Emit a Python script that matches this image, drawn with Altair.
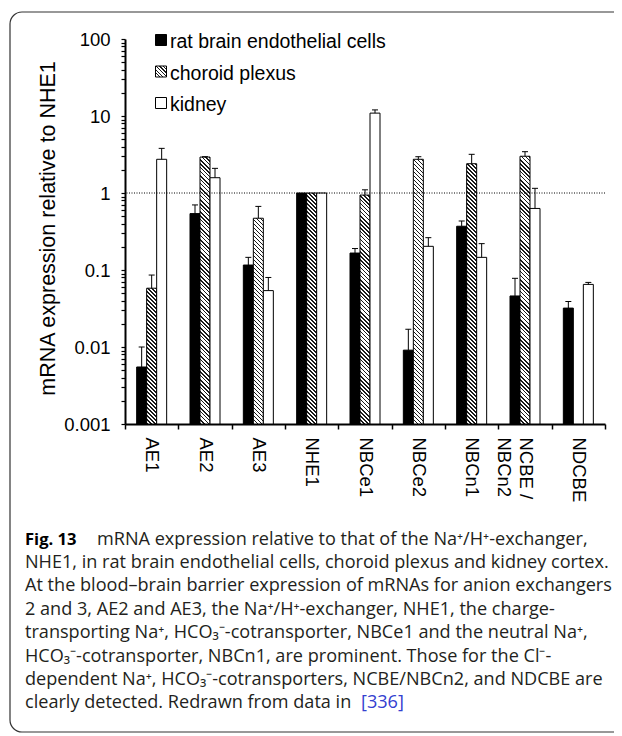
import math
import altair as alt
import pandas as pd

# ---------------- data ----------------
categories = ["AE1", "AE2", "AE3", "NHE1", "NBCe1", "NBCe2", "NBCn1", "NCBE/NBCn2", "NDCBE"]
series = ["rat brain endothelial cells", "choroid plexus", "kidney"]

endothelial = [0.0055, 0.54, 0.116, 1.0, 0.166, 0.0091, 0.37, 0.046, 0.032]
endothelial_err = [0.010, 0.70, 0.146, None, 0.19, 0.017, 0.433, 0.078, 0.039]
choroid = [0.058, 2.93, 0.47, 1.0, 0.94, 2.74, 2.4, 3.0, None]
choroid_err = [0.086, 2.96, 0.67, None, 1.10, 2.96, 3.18, 3.44, None]
kidney = [2.74, 1.58, 0.054, 1.0, 10.9, 0.203, 0.146, 0.63, 0.065]
kidney_err = [3.8, 2.09, 0.080, None, 12.0, 0.263, 0.22, 1.15, 0.069]

caption_bold = "Fig. 13"
caption_lines = [
    "mRNA expression relative to that of the Na\u207a/H\u207a-exchanger,",
    "NHE1, in rat brain endothelial cells, choroid plexus and kidney cortex.",
    "At the blood\u2013brain barrier expression of mRNAs for anion exchangers",
    "2 and 3, AE2 and AE3, the Na\u207a/H\u207a-exchanger, NHE1, the charge-",
    "transporting Na\u207a, HCO\u2083\u207b-cotransporter, NBCe1 and the neutral Na\u207a,",
    "HCO\u2083\u207b-cotransporter, NBCn1, are prominent. Those for the Cl\u207b-",
    "dependent Na\u207a, HCO\u2083\u207b-cotransporters, NCBE/NBCn2, and NDCBE are",
    "clearly detected. Redrawn from data in",
]
caption_ref = "[336]"

# ---------------- layout constants ----------------
W, H = 480, 385
YMIN, YMAX = 0.001, 100
STEP = W / len(categories)
BAR_W = 10.0
GROUP = 3 * BAR_W

rows = []
vals = [endothelial, choroid, kidney]
errs = [endothelial_err, choroid_err, kidney_err]
for si, s in enumerate(series):
    for ci, c in enumerate(categories):
        rows.append({"cat": c, "series": s, "value": vals[si][ci], "err": errs[si][ci], "base": YMIN})
df = pd.DataFrame(rows)


def hatch(w, h, period=4.0, thick=1.5, dark="#1a1a1a", light="#ffffff"):
    L = w + h
    c = L / (w * w + h * h)
    stops = []
    k = 0
    while k * period < L:
        a = round(k * period / L, 5)
        b = round(min((k * period + thick) / L, 1.0), 5)
        e = round(min((k + 1) * period / L, 1.0), 5)
        stops += [
            {"offset": a, "color": dark},
            {"offset": b, "color": dark},
            {"offset": b, "color": light},
            {"offset": e, "color": light},
        ]
        k += 1
    return {"gradient": "linear", "x1": 0, "y1": 1, "x2": c * w, "y2": 1 - c * h, "stops": stops}


def px_height(v):
    return H * (math.log10(v) - math.log10(YMIN)) / (math.log10(YMAX) - math.log10(YMIN))


conds = []
for ci, c in enumerate(categories):
    v = choroid[ci]
    if v is None:
        continue
    conds.append({
        "test": f"datum.cat == '{c}' && datum.series == '{series[1]}'",
        "value": hatch(BAR_W, px_height(v)),
    })
conds.append({"test": f"datum.series == '{series[0]}'", "value": "black"})
bar_fill = {"condition": conds, "value": "white"}

tick_values = []
for e in range(-3, 2):
    for k in range(1, 10):
        tick_values.append(float(f"{k}e{e}"))
tick_values.append(100.0)

FONT = "Liberation Sans"

x_enc = alt.X(
    "cat:N", sort=categories, title="",
    scale=alt.Scale(paddingInner=0, paddingOuter=0),
    axis=alt.Axis(
        labelAngle=90, labelAlign="left", labelBaseline="middle",
        labelFont=FONT, labelFontSize=18.5, labelColor="black",
        labelPadding=8, tickSize=5, tickWidth=1.5, tickColor="black",
        domainColor="black", domainWidth=2, tickBand="extent",
        labelExpr="datum.value == 'NCBE/NBCn2' ? ['NCBE /', 'NBCn2'] : datum.label",
        labelLineHeight=22, labelOverlap=False, grid=False,
    ),
)
xoff_enc = alt.XOffset(
    "series:N", sort=series,
    scale=alt.Scale(paddingInner=0, paddingOuter=0,
                    range=[(STEP - GROUP) / 2, (STEP + GROUP) / 2]),
)
y_scale = alt.Scale(type="log", domain=[YMIN, YMAX])
y_axis = alt.Axis(
    values=tick_values,
    labelExpr="abs(log(datum.value)/LN10 - round(log(datum.value)/LN10)) < 0.0001 ? format(datum.value, '~g') : ''",
    labelFont=FONT, labelFontSize=18.5, labelColor="black", labelPadding=11,
    labelOverlap=False, labelFlush=False,
    tickSize=4, tickWidth=1.2, tickColor="black",
    domainColor="black", domainWidth=2, grid=False,
    title="mRNA expression relative to NHE1",
    titleFont=FONT, titleFontSize=21.5, titleFontWeight="normal", titleColor="black",
    titleX=-77, titleY=189, titleAngle=270, titleAlign="center", titleBaseline="middle",
)

base = alt.Chart(df)
bars = base.transform_filter("isValid(datum.value)").mark_bar(stroke="black", strokeWidth=1).encode(
    x=x_enc, xOffset=xoff_enc,
    y=alt.Y("value:Q", scale=y_scale, axis=y_axis),
    y2=alt.Y2("base:Q"),
    fill=bar_fill,
)
stems = base.transform_filter("isValid(datum.err)").mark_rule(color="black", strokeWidth=1).encode(
    x=x_enc, xOffset=xoff_enc,
    y=alt.Y("value:Q", scale=y_scale, axis=y_axis),
    y2=alt.Y2("err:Q"),
)
caps = base.transform_filter("isValid(datum.err)").mark_tick(
    color="black", thickness=1, size=6, opacity=1
).encode(
    x=x_enc, xOffset=xoff_enc,
    y=alt.Y("err:Q", scale=y_scale, axis=y_axis),
)
ref = alt.Chart(pd.DataFrame({"ref": [1.0]})).mark_rule(
    color="black", strokeWidth=1, strokeDash=[1, 1.5]
).encode(y=alt.Y("ref:Q", scale=y_scale, axis=y_axis))

main = alt.layer(bars, stems, caps, ref)

# ---------------- legend ----------------
leg_df = pd.DataFrame({"series": series})
leg_y = alt.Y("series:N", sort=series, scale=alt.Scale(type="point", padding=0, range=[1, 64]), axis=None)
leg_fill = {
    "condition": [
        {"test": f"datum.series == '{series[1]}'", "value": hatch(11, 11, period=3.6, thick=1.2)},
        {"test": f"datum.series == '{series[0]}'", "value": "black"},
    ],
    "value": "white",
}
leg_sq = alt.Chart(leg_df).mark_square(size=121, stroke="black", strokeWidth=1, opacity=1).encode(
    x=alt.value(36), y=leg_y, fill=leg_fill
)
leg_txt = alt.Chart(leg_df).mark_text(
    align="left", baseline="middle", font=FONT, fontSize=19.5, color="black", dy=2
).encode(x=alt.value(45), y=leg_y, text="series:N")
legend = alt.layer(leg_sq, leg_txt)

# ---------------- caption & frame ----------------
dummy = pd.DataFrame({"a": [0]})
CAP_FONT = "Open Sans"
CAP_SIZE = 18.1
CAP_COLOR = "#231f20"
CAP_Y0 = 505.5
CAP_DY = 23.4
cap_layers = []
cap_layers.append(
    alt.Chart(dummy).mark_text(
        text=caption_bold, align="left", baseline="alphabetic", font=CAP_FONT,
        fontSize=16.6, fontWeight="bold", color="black"
    ).encode(x=alt.value(-100), y=alt.value(CAP_Y0))
)
for i, line in enumerate(caption_lines):
    x0 = -28 if i == 0 else -100
    cap_layers.append(
        alt.Chart(dummy).mark_text(
            text=line, align="left", baseline="alphabetic", font=CAP_FONT,
            fontSize=CAP_SIZE, color=CAP_COLOR
        ).encode(x=alt.value(x0), y=alt.value(CAP_Y0 + CAP_DY * i))
    )
cap_layers.append(
    alt.Chart(dummy).mark_text(
        text=caption_ref, align="left", baseline="alphabetic", font=CAP_FONT,
        fontSize=CAP_SIZE, color="#3340d0"
    ).encode(x=alt.value(236), y=alt.value(CAP_Y0 + CAP_DY * 7))
)
frame = alt.Chart(dummy).mark_rect(
    fill="transparent", stroke="#333333", strokeWidth=1.2, cornerRadius=12
).encode(x=alt.value(-115), x2=alt.value(700), y=alt.value(-27), y2=alt.value(693))

chart = alt.layer(frame, main, legend, *cap_layers).resolve_scale(y="independent").properties(
    width=W, height=H,
    padding={"left": 117, "top": 31, "right": 9, "bottom": 312},
    autosize=alt.AutoSizeParams(type="none"),
).configure_view(stroke="transparent")

chart.save("out.html", embed_options={"renderer": "svg", "actions": False})
